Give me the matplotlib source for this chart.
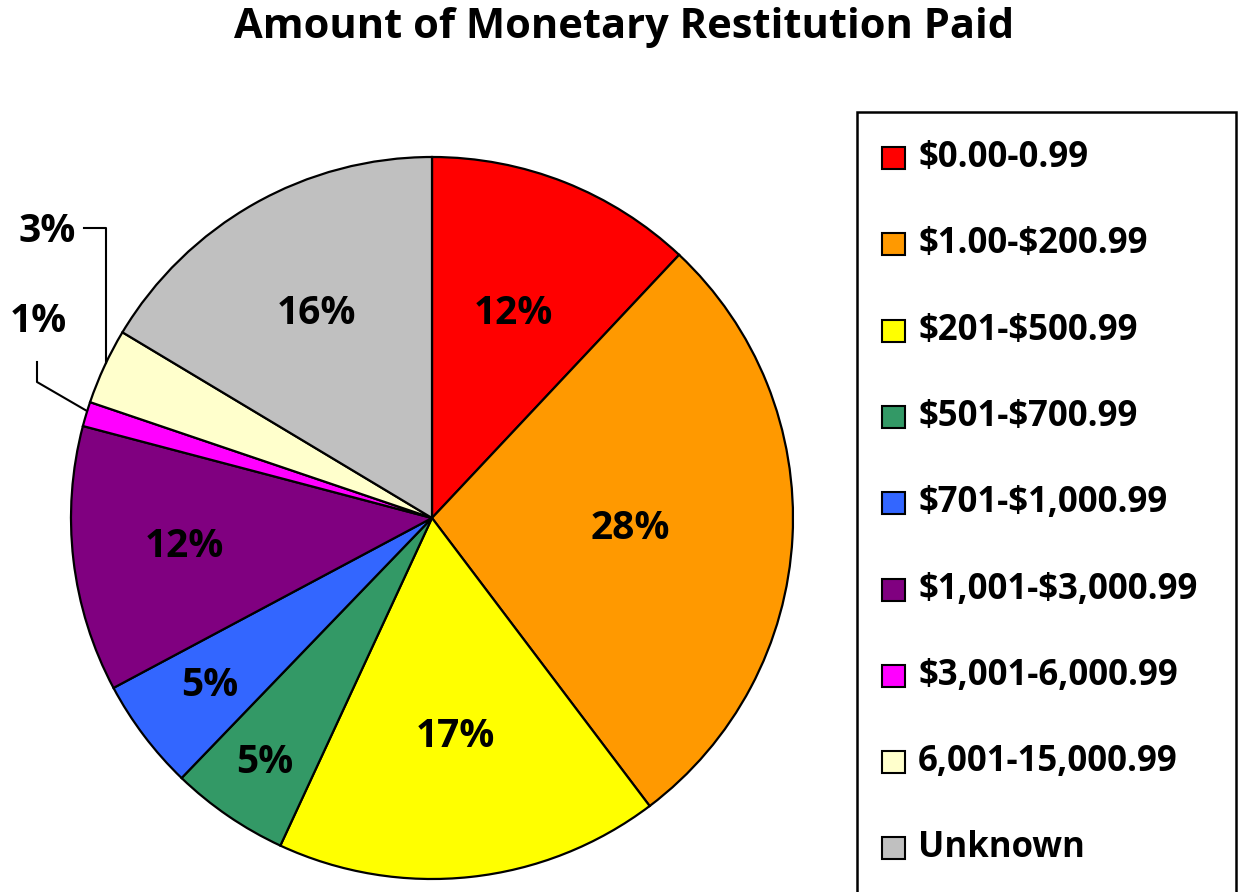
import numpy as np
import matplotlib
matplotlib.use("Agg")
import matplotlib.pyplot as plt
from matplotlib.patches import Rectangle

categories = ["$0.00-0.99", "$1.00-$200.99", "$201-$500.99", "$501-$700.99",
              "$701-$1,000.99", "$1,001-$3,000.99", "$3,001-6,000.99",
              "6,001-15,000.99", "Unknown"]
shares = [12.0, 27.7, 17.2, 5.3, 5.0, 11.9, 1.1, 3.4, 16.4]
pct_labels = ["12%", "28%", "17%", "5%", "5%", "12%", "1%", "3%", "16%"]
colors = ["#FF0000", "#FF9900", "#FFFF00", "#339966", "#3366FF",
          "#800080", "#FF00FF", "#FFFFCC", "#C0C0C0"]

W, H = 1238, 892
plt.rcParams['font.family'] = ['Open Sans', 'DejaVu Sans']
plt.rcParams['text.parse_math'] = False
fig = plt.figure(figsize=(W / 100, H / 100), dpi=100)

cx, cy, R = 432, 518, 361
ax = fig.add_axes([(cx - R) / W, (H - cy - R) / H, 2 * R / W, 2 * R / H])

wedges, _ = ax.pie(shares, colors=colors, startangle=90, counterclock=False,
                   radius=1, wedgeprops=dict(edgecolor='black', linewidth=1.6))
ax.set_xlim(-1, 1)
ax.set_ylim(-1, 1)
ax.set_aspect('equal')
ax.axis('off')

LBL = 28
inside_r = [0.61, 0.55, 0.61, 0.82, 0.77, 0.69, None, None, 0.65]
for w, lab, r in zip(wedges, pct_labels, inside_r):
    if r is None:
        continue
    ang = np.deg2rad((w.theta1 + w.theta2) / 2)
    ax.text(r * np.cos(ang), r * np.sin(ang), lab, ha='center', va='center',
            fontsize=LBL, fontweight='bold')

def px(x, y):
    return ((x - cx) / R, (cy - y) / R)

# outside labels with leader lines
x1, y1 = px(47, 232)
ax.text(x1, y1, pct_labels[7], ha='center', va='center', fontsize=LBL,
        fontweight='bold', clip_on=False)
pts = [px(84, 228), px(106, 228), px(106, 363)]
ax.plot([p[0] for p in pts], [p[1] for p in pts], color='black', lw=1.5, clip_on=False)

x2, y2 = px(38, 322)
ax.text(x2, y2, pct_labels[6], ha='center', va='center', fontsize=LBL,
        fontweight='bold', clip_on=False)
pts = [px(37, 362), px(37, 382), px(87, 411)]
ax.plot([p[0] for p in pts], [p[1] for p in pts], color='black', lw=1.5, clip_on=False)

fig.text(624 / W, 1 - 28 / H, "Amount of Monetary Restitution Paid",
         ha='center', va='center', fontsize=30, fontweight='bold')

# legend box
fig.patches.append(Rectangle((857 / W, -0.05), (1236 - 857) / W, 0.05 + (H - 112) / H,
                             transform=fig.transFigure, facecolor='white',
                             edgecolor='black', linewidth=1.8))
y0, dy = 158, 86.3
for i, (cat, col) in enumerate(zip(categories, colors)):
    yc = y0 + i * dy
    fig.patches.append(Rectangle((882 / W, 1 - (yc + 11) / H), 23 / W, 22 / H,
                                 transform=fig.transFigure, facecolor=col,
                                 edgecolor='black', linewidth=1.5))
    fig.text(918 / W, 1 - yc / H, cat, ha='left', va='center',
             fontsize=25, fontweight='bold')

fig.savefig("out.png", dpi=100)
